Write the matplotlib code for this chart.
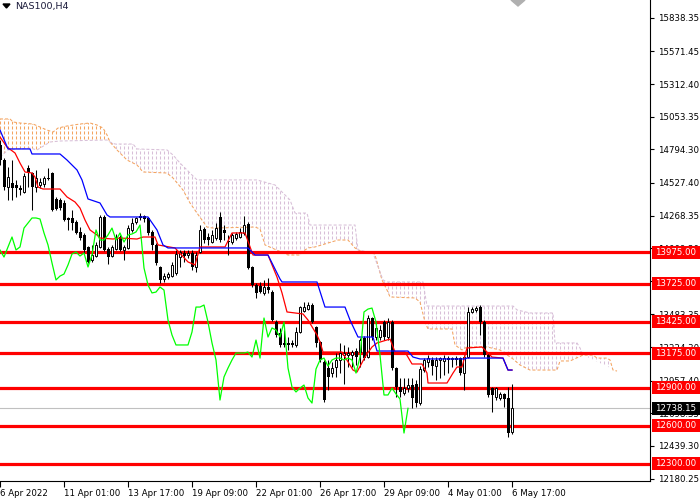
import numpy as np
import matplotlib
matplotlib.use("Agg")
import matplotlib.pyplot as plt
from matplotlib.patches import Polygon, Rectangle
from matplotlib.transforms import blended_transform_factory

# NAS100 H4 candles (bar 0 = 6 Apr 2022, 4 hours per bar)
opens = [14828, 14709, 14495, 14527, 14511, 14487, 14455, 14646, 14606, 14495,
         14511, 14519, 14566, 14606, 14400, 14392, 14368, 14249, 14249, 14217,
         14138, 14114, 14019, 13915, 13947, 14019, 14257, 14003, 13947, 14003,
         14098, 13995, 14011, 14154, 14217, 14265, 14265, 14249, 14138, 14035,
         13860, 13765, 13780, 13788, 13812, 13939, 13971, 13955, 13971, 13860,
         13979, 14162, 14098, 14058, 14090, 14257, 14154, 14066, 14058, 14090,
         14098, 14130, 14201, 13860, 13717, 13709, 13654, 13701, 13661, 13423,
         13336, 13257, 13257, 13257, 13241, 13344, 13511, 13526, 13558, 13384,
         13265, 13106, 13058, 13018, 13066, 13122, 13161, 13161, 13161, 13193,
         13185, 13296, 13145, 13455, 13304, 13304, 13423, 13304, 13423, 13058,
         12907, 12860, 12899, 12923, 12931, 12780, 13042, 13106, 13122, 13074,
         13122, 13114, 13137, 13130, 13137, 13137, 13018, 13145, 13503, 13519,
         13542, 13423, 13161, 12899, 12828, 12820, 12852, 12820, 12550]
highs = [14868, 14725, 14654, 14709, 14551, 14511, 14606, 14670, 14614, 14630,
         14566, 14582, 14646, 14614, 14416, 14408, 14392, 14257, 14312, 14233,
         14177, 14130, 14027, 14035, 14058, 14273, 14273, 14019, 14035, 14122,
         14114, 14035, 14193, 14249, 14257, 14288, 14273, 14257, 14154, 14050,
         13866, 13812, 13820, 13900, 13995, 13995, 13995, 13995, 13995, 13979,
         14193, 14177, 14130, 14154, 14209, 14296, 14193, 14114, 14130, 14138,
         14169, 14265, 14217, 13866, 13733, 13741, 13757, 13772, 13677, 13439,
         13376, 13360, 13304, 13280, 13384, 13550, 13582, 13582, 13574, 13390,
         13272, 13122, 13122, 13106, 13177, 13257, 13241, 13225, 13201, 13217,
         13296, 13312, 13479, 13463, 13423, 13399, 13439, 13455, 13439, 13066,
         12979, 12979, 12979, 12979, 12963, 13074, 13137, 13161, 13145, 13145,
         13145, 13161, 13153, 13145, 13153, 13145, 13161, 13542, 13542, 13550,
         13558, 13439, 13177, 12907, 12907, 12868, 12860, 12907, 12931]
lows = [14670, 14471, 14392, 14392, 14416, 14431, 14447, 14495, 14312, 14455,
        14487, 14495, 14551, 14304, 14312, 14312, 14225, 14154, 14154, 14122,
        14074, 13971, 13892, 13900, 13939, 14011, 13987, 13884, 13939, 13995,
        13987, 13915, 14003, 14138, 14201, 14233, 14217, 14114, 13995, 13876,
        13733, 13741, 13765, 13780, 13796, 13860, 13900, 13931, 13836, 13820,
        13971, 14050, 14035, 14050, 14074, 14058, 14074, 13955, 14042, 14074,
        14090, 14114, 13844, 13701, 13614, 13654, 13638, 13654, 13431, 13304,
        13225, 13225, 13201, 13225, 13225, 13336, 13503, 13519, 13415, 13225,
        13106, 12788, 12883, 12987, 12987, 13018, 12931, 13066, 13066, 13082,
        13066, 13122, 13137, 13280, 13280, 13280, 13280, 13280, 13042, 12828,
        12828, 12844, 12868, 12741, 12749, 12764, 13026, 13066, 13003, 12963,
        12979, 13003, 13018, 13066, 13082, 13003, 12883, 13137, 13495, 13503,
        13320, 13145, 12828, 12709, 12804, 12804, 12749, 12510, 12534]
closes = [14709, 14495, 14574, 14487, 14487, 14471, 14582, 14606, 14495, 14566,
          14535, 14566, 14558, 14312, 14320, 14328, 14233, 14233, 14209, 14130,
          14090, 13995, 13900, 13955, 14035, 14257, 13995, 13939, 14019, 14098,
          13995, 14019, 14169, 14209, 14249, 14249, 14241, 14130, 14035, 13892,
          13757, 13788, 13804, 13876, 13963, 13979, 13947, 13971, 13860, 13955,
          14154, 14074, 14074, 14114, 14169, 14074, 14130, 14058, 14114, 14122,
          14138, 14193, 13852, 13717, 13654, 13661, 13701, 13677, 13439, 13320,
          13241, 13241, 13241, 13241, 13344, 13542, 13542, 13558, 13423, 13257,
          13122, 12804, 12987, 13058, 13122, 13177, 13177, 13177, 13185, 13145,
          13280, 13137, 13455, 13304, 13376, 13360, 13304, 13423, 13058, 12907,
          12868, 12899, 12923, 12820, 12780, 13050, 13122, 13137, 13074, 13122,
          13137, 13137, 13122, 13137, 13122, 13018, 13145, 13503, 13526, 13534,
          13423, 13161, 12844, 12844, 12899, 12852, 12812, 12542, 12738.15]

# Ichimoku lines: (bar, price) vertices
tenkan_x = [0, 1.75, 3.75, 5, 6.25, 8, 8.75, 9.5, 10.75, 15, 16.75, 18.75, 20, 21.25,
            22.5, 24.25, 25, 28.25, 30, 34.25, 35.75, 38.75, 39.5, 43.75, 47, 48.75,
            50, 56.25, 58, 61.25, 63.25, 67, 69.25, 70.5, 71.75, 75.75, 77, 79.25,
            80, 80.75, 85.5, 88.25, 89.25, 91.25, 93, 94.25, 97.5, 98.75, 101.25,
            103, 105.5, 106.75, 107, 111.75, 113.25, 114.25, 115.5, 116.75, 120.5,
            122, 123, 125.75, 127, 128]
tenkan_y = [14892, 14812, 14765, 14685, 14614, 14606, 14574, 14495, 14479, 14479,
            14416, 14376, 14328, 14233, 14154, 14114, 14090, 14082, 14090, 14082,
            14098, 14098, 14035, 14011, 13900, 13876, 14019, 14019, 14130, 14130,
            13955, 13955, 13780, 13654, 13503, 13487, 13439, 13320, 13265, 13185,
            13185, 13042, 13026, 13145, 13225, 13257, 13288, 13185, 13185, 13090,
            13090, 13018, 12939, 12939, 13018, 13066, 13066, 13217, 13225, 13177,
            13145, 13137, 13042, 13042]
kijun_x = [0, 2, 7.5, 8, 15, 16.75, 19.25, 20.5, 22, 25, 26.75, 27.5, 37, 39.25,
           40.75, 42, 62, 63.75, 67, 70, 70.5, 79.25, 81.25, 86.25, 87.5, 89.5,
           93.25, 94.25, 102, 103.25, 105, 116.25, 116.75, 125.75, 127, 128]
kijun_y = [14947, 14797, 14797, 14757, 14757, 14709, 14630, 14551, 14400, 14368,
           14273, 14257, 14257, 14154, 14035, 14011, 14011, 13955, 13955, 13765,
           13741, 13741, 13542, 13542, 13439, 13304, 13304, 13193, 13193, 13145,
           13130, 13130, 13137, 13137, 13042, 13042]
span_a_x = [0, 2.5, 3.25, 5, 8.25, 10, 11.75, 13.25, 14.5, 16.75, 20, 22.5, 24.25,
            25.75, 26.75, 27.5, 29.25, 31.75, 34.25, 35.75, 41.75, 43.25, 45.75,
            47.5, 49.25, 51.75, 53.25, 63.75, 65, 66.25, 72, 75, 75.5, 77, 78.75,
            84.5, 87, 88.75, 90.5, 93.25, 93.75, 95.5, 97, 97.5, 103.75, 105,
            106.25, 107, 113, 113.75, 115.5, 116.75, 121.75, 125, 128.25, 130,
            132.5, 139.25, 140, 142.5, 145.75, 148.25, 149.25, 151.75, 152.5,
            153.25, 154.25]
span_a_y = [15035, 15035, 15011, 15003, 14995, 14971, 14947, 14931, 14963, 14979,
            14995, 15003, 14987, 14963, 14908, 14852, 14789, 14709, 14670, 14614,
            14606, 14566, 14471, 14368, 14288, 14177, 14169, 14177, 14162, 14035,
            13955, 13955, 13979, 14011, 14019, 14074, 14074, 14011, 13979, 13979,
            13955, 13757, 13661, 13622, 13614, 13582, 13423, 13368, 13368, 13241,
            13201, 13225, 13225, 13201, 13130, 13082, 13042, 13042, 13114, 13114,
            13161, 13161, 13137, 13137, 13122, 13042, 13034]
span_b_x = [0, 2, 7.5, 9.25, 12.5, 15, 26.75, 27.5, 28.75, 33.25, 34.25, 41.75,
            43.25, 45, 47.5, 49.25, 64.25, 68.75, 72.5, 73.75, 76.75, 77.5, 88.75,
            89.5, 93.25, 95.75, 96.75, 105.75, 106.75, 128.25, 129.25, 132.5,
            138.25, 138.75, 144.25, 145, 145.75]
span_b_y = [14733, 14789, 14804, 14789, 14852, 14860, 14868, 14852, 14836, 14836,
            14797, 14789, 14749, 14685, 14606, 14551, 14551, 14511, 14392, 14288,
            14288, 14193, 14193, 13995, 13971, 13757, 13741, 13741, 13550, 13550,
            13519, 13495, 13495, 13257, 13257, 13217, 13161]

levels = [13975, 13725, 13425, 13175, 12900, 12600, 12300]
last_price = 12738.15
price_ticks = [15838.35, 15571.45, 15312.40, 15053.35, 14794.30, 14527.40, 14268.35,
               14009.30, 13750.25, 13483.35, 13224.30, 12957.40, 12698.35, 12439.30,
               12180.25]
date_labels = ['6 Apr 2022', '11 Apr 01:00', '13 Apr 17:00', '19 Apr 09:00',
               '22 Apr 01:00', '26 Apr 17:00', '29 Apr 09:00', '4 May 01:00',
               '6 May 17:00']

W, H = 700, 500
fig = plt.figure(figsize=(7, 5), dpi=100)
fig.patch.set_facecolor('white')
ax = fig.add_axes([0, 19 / H, 650 / W, 481 / H])
ax.set_xlim(0, 162.5)
ax.set_ylim(12161.2, 15979.3)
px = 7.938  # price per pixel
fs = 6.2

opens, highs, lows, closes = map(np.array, (opens, highs, lows, closes))
idx = np.arange(len(closes))

# cloud: dotted vertical hatch clipped to the two regions (A/B swap at bar 27.5)
ax_ = np.array(span_a_x); ay_ = np.array(span_a_y)
bx_ = np.array(span_b_x); by_ = np.array(span_b_y)
ia = np.searchsorted(ax_, 27.5)
ib = np.searchsorted(bx_, 27.5)
reg1 = list(zip(ax_[:ia + 1], ay_[:ia + 1])) + list(zip(bx_[:ib + 1], by_[:ib + 1]))[::-1]
reg2 = list(zip(bx_[ib:], by_[ib:])) + list(zip(ax_[ia:], ay_[ia:]))[::-1]
hatch_x = np.arange(0, 155)
for verts, col in ((reg1, '#f4a460'), (reg2, '#d8bfd8')):
    poly = Polygon(verts, closed=True, fill=False, edgecolor='none', transform=ax.transData)
    ax.add_patch(poly)
    lc = ax.vlines(hatch_x, 12100, 16000, colors=col, lw=0.75,
                   linestyles=(0, (2.9, 1.9)), zorder=1)
    lc.set_clip_path(poly)
ax.plot(span_a_x, span_a_y, color='#f4a460', lw=0.75, ls=(0, (2.9, 1.9)), zorder=1.5)
ax.plot(span_b_x, span_b_y, color='#d8bfd8', lw=0.75, ls=(0, (2.9, 1.9)), zorder=1.5)

# horizontal levels and last price
for lv in levels:
    ax.axhline(lv, color='#ff0000', lw=2.3, zorder=2)
ax.axhline(last_price, color='#c0c0c0', lw=0.8, zorder=1.8)

# candles
up = closes >= opens
ax.vlines(idx, lows, highs, color='black', lw=0.75, zorder=3)
ax.bar(idx[up], (closes - opens)[up], bottom=opens[up], width=0.6,
       facecolor='white', edgecolor='black', lw=0.7, zorder=4)
ax.bar(idx[~up], (opens - closes)[~up], bottom=closes[~up], width=0.75,
       color='black', lw=0, zorder=4)

# ichimoku lines
ax.plot(tenkan_x, tenkan_y, color='#ff0000', lw=0.9, zorder=5)
ax.plot(kijun_x, kijun_y, color='#0000ff', lw=0.9, zorder=5)
chikou = closes[26:]
ax.plot(idx[:len(chikou)], chikou, color='#00ff00', lw=0.9, zorder=5)

# axes styling
for s in ('left', 'top'):
    ax.spines[s].set_visible(False)
for s in ('right', 'bottom'):
    ax.spines[s].set_linewidth(0.8)
ax.yaxis.tick_right()
ax.set_yticks(price_ticks)
ax.set_yticklabels([f'{v:.2f}' for v in price_ticks])
ax.set_xticks(list(range(0, 16 * len(date_labels), 16)))
ax.set_xticklabels(date_labels, ha='left')
ax.tick_params(axis='y', direction='out', length=3, width=0.8, pad=3, labelsize=fs)
ax.tick_params(axis='x', direction='out', length=4, width=0.8, pad=2, labelsize=fs)

# price labels on the right scale
trans = blended_transform_factory(fig.transFigure, ax.transData)
for lv, bg in [(v, '#ff0000') for v in levels] + [(last_price, 'black')]:
    fig.add_artist(Rectangle((652 / W, lv - 6.5 * px), 48 / W, 13 * px,
                             transform=trans, color=bg, lw=0))
    fig.text(676 / W, lv, f'{lv:.2f}', transform=trans, ha='center', va='center',
             color='white', fontsize=fs)

# title and shift marker
fig.add_artist(Polygon([(3 / W, 1 - 4 / H), (10 / W, 1 - 4 / H), (6.5 / W, 1 - 8 / H)],
                       closed=True, color='black', transform=fig.transFigure))
fig.text(15 / W, 1 - 6 / H, 'NAS100,H4', fontsize=6.8, color='#1a1a3a', va='center')
fig.add_artist(Polygon([(511 / W, 1.0), (525 / W, 1.0), (518 / W, 1 - 6 / H)],
                       closed=True, color='#b0b0b0', transform=fig.transFigure))

fig.savefig('out.png', dpi=100)
